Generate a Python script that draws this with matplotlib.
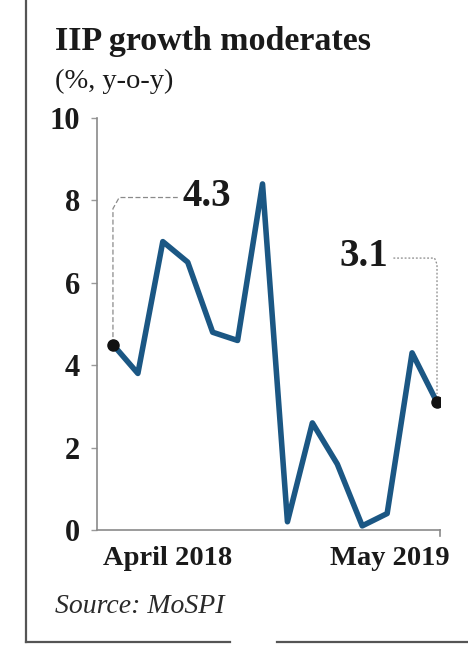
import matplotlib
matplotlib.use("Agg")
import matplotlib.pyplot as plt
from matplotlib.lines import Line2D

months = ["Apr 2018", "May 2018", "Jun 2018", "Jul 2018", "Aug 2018", "Sep 2018",
          "Oct 2018", "Nov 2018", "Dec 2018", "Jan 2019", "Feb 2019", "Mar 2019",
          "Apr 2019", "May 2019"]
growth = [4.5, 3.8, 7.0, 6.5, 4.8, 4.6, 8.4, 0.2, 2.6, 1.6, 0.1, 0.4, 4.3, 3.1]
yticks = [0, 2, 4, 6, 8, 10]
xlabels = ["April 2018", "May 2019"]
callouts = ["4.3", "3.1"]

SERIF = ["Liberation Serif", "DejaVu Serif"]
W, H = 468, 656
fig = plt.figure(figsize=(W / 100, H / 100), dpi=100)
fig.patch.set_facecolor("white")

def fx(px):
    return px / W

def fy(py):
    return 1 - py / H

ax = fig.add_axes([fx(97), fy(530), fx(440) - fx(97), fy(118) - fy(530)])
x = list(range(len(growth)))
ax.plot(x, growth, color="#1b5784", lw=4.0, solid_joinstyle="round",
        solid_capstyle="round", zorder=3)
ax.plot([x[0], x[-1]], [growth[0], growth[-1]], "o", color="#111111", ms=8, zorder=4)

ax.set_xlim(-0.64, 13.12)
ax.set_ylim(0, 10)
for s in ["top", "right"]:
    ax.spines[s].set_visible(False)
for s in ["left", "bottom"]:
    ax.spines[s].set_color("#8a8a8a")
    ax.spines[s].set_linewidth(1.2)
ax.set_xticks([])
ax.set_yticks(yticks)
ax.set_yticklabels([str(v) for v in yticks], fontfamily=SERIF, fontweight="bold",
                   fontsize=22, color="#1a1a1a")
ax.tick_params(axis="y", length=4, width=1, color="#9a9a9a", pad=8)

# right-end tick on x axis
ax.plot([13.12, 13.12], [0, -0.15], color="#8a8a8a", lw=1.2, clip_on=False)

# x labels
ax.text(2.2, -0.85, xlabels[0], ha="center", va="baseline", fontfamily=SERIF,
        fontweight="bold", fontsize=20.5, color="#1a1a1a")
ax.text(11.1, -0.85, xlabels[1], ha="center", va="baseline", fontfamily=SERIF,
        fontweight="bold", fontsize=20.5, color="#1a1a1a")

# callout 1 (left)
ax.plot([0, 0, 0.25, 2.6], [growth[0], 7.8, 8.07, 8.07], color="#8a8a8a", lw=0.9,
        ls=(0, (4, 2)), zorder=2)
ax.text(2.8, 8.1, callouts[0], ha="left", va="center", fontfamily=SERIF,
        fontweight="bold", fontsize=28, color="#1a1a1a")
# callout 2 (right)
ax.plot([11.25, 12.9, 13.0, 13.0], [6.6, 6.6, 6.45, 3.3], color="#8a8a8a", lw=0.9,
        ls=(0, (1.5, 1.5)), zorder=2)
ax.text(11.05, 6.65, callouts[1], ha="right", va="center", fontfamily=SERIF,
        fontweight="bold", fontsize=28, color="#1a1a1a")

# titles
fig.text(fx(55), fy(50), "IIP growth moderates", ha="left", va="baseline",
         fontfamily=SERIF, fontweight="bold", fontsize=24.5, color="#1a1a1a")
fig.text(fx(55), fy(88), "(%, y-o-y)", ha="left", va="baseline",
         fontfamily=SERIF, fontsize=20.5, color="#1a1a1a")
fig.text(fx(55), fy(613), "Source: MoSPI", ha="left", va="baseline",
         fontfamily=SERIF, fontstyle="italic", fontsize=20, color="#2a2a2a")

# frame lines
fig.add_artist(Line2D([fx(26), fx(26)], [fy(0), fy(642)], color="#555555", lw=1.6))
fig.add_artist(Line2D([fx(26), fx(230)], [fy(642), fy(642)], color="#555555", lw=1.6))
fig.add_artist(Line2D([fx(277), fx(468)], [fy(642), fy(642)], color="#555555", lw=1.6))

fig.savefig("out.png", dpi=100, facecolor="white")
